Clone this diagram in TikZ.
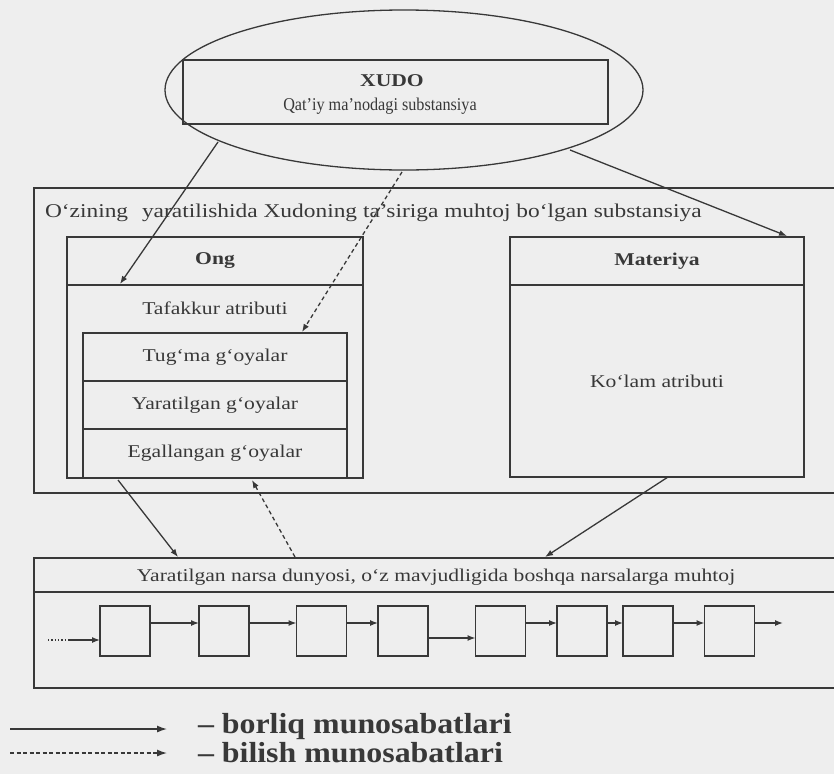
\documentclass[tikz,border=0pt]{standalone}
\usepackage{fontspec}
\setmainfont{Liberation Serif}
\newfontfamily\wf[FakeStretch=1.2]{Liberation Serif}
\newfontfamily\cf[FakeStretch=0.9]{Liberation Serif}
\newfontfamily\lf[FakeStretch=1.1]{Liberation Serif}
\usetikzlibrary{shapes.geometric,arrows.meta}
\definecolor{ink}{HTML}{383838}
\definecolor{paper}{HTML}{EEEEEE}
\begin{document}
\begin{tikzpicture}[x=1pt,y=-1pt,
  every node/.style={inner sep=0pt,outer sep=0pt},
  ln/.style={draw=ink,line width=1.3pt},
  box/.style={ln,rectangle},
  sbox/.style={ln,rectangle,minimum width=50pt,minimum height=50pt},
  lbl/.style={font=\wf\fontsize{18}{20}\selectfont,text=ink},
  blbl/.style={font=\wf\fontsize{18}{20}\selectfont\bfseries,text=ink},
  leg/.style={font=\lf\fontsize{29}{30}\selectfont\bfseries,text=ink,anchor=west},
  arr/.style={ln,-{Latex[length=8pt,width=6pt]}},
  darr/.style={arr,dash pattern=on 4pt off 3pt},
]
\fill[paper] (0,0) rectangle (834,774);
\useasboundingbox (0,0) rectangle (834,774);

% God
\node[ln,ellipse,minimum width=478pt,minimum height=160pt] (god) at (404,90) {};
\node[box,minimum width=425pt,minimum height=64pt] (xudo) at (395.5,92) {};
\node[blbl] (xt1) at (392,81) {XUDO};
\node[font=\cf\fontsize{18}{20}\selectfont,text=ink] (xt2) at (380,106) {Qat’iy ma’nodagi substansiya};

% middle box
\node[box,anchor=north west,minimum width=810pt,minimum height=305pt] (mid) at (34,188) {};
\node[font=\wf\fontsize{19.5}{21}\selectfont,text=ink,anchor=west] (midt) at (45,213) {O‘zining\hspace{8pt} yaratilishida Xudoning ta’siriga muhtoj bo‘lgan substansiya};

% Ong
\node[box,anchor=north west,minimum width=296pt,minimum height=241pt] (ong) at (67,237) {};
\draw[ln] (ong.west |- 0,285) -- (ong.east |- 0,285);
\node[blbl] (ongt) at (215,261) {Ong};
\node[lbl] (taf) at (215,308) {Tafakkur atributi};
\node[box,anchor=north west,minimum width=264pt,minimum height=145pt] (goy) at (83,333) {};
\draw[ln] (goy.west |- 0,381) -- (goy.east |- 0,381);
\draw[ln] (goy.west |- 0,429) -- (goy.east |- 0,429);
\node[lbl] (g1) at (215,357) {Tug‘ma g‘oyalar};
\node[lbl] (g2) at (215,405) {Yaratilgan g‘oyalar};
\node[lbl] (g3) at (215,453) {Egallangan g‘oyalar};

% Materiya
\node[box,anchor=north west,minimum width=294pt,minimum height=240pt] (mat) at (510,237) {};
\draw[ln] (mat.west |- 0,285) -- (mat.east |- 0,285);
\node[blbl] (matt) at (657,261) {Materiya};
\node[lbl] (kol) at (657,381) {Ko‘lam atributi};

% world
\node[box,anchor=north west,minimum width=810pt,minimum height=130pt] (world) at (34,558) {};
\draw[ln] (world.west |- 0,592) -- (world.east |- 0,592);
\node[lbl] (wt) at (436,577) {Yaratilgan narsa dunyosi, o‘z mavjudligida boshqa narsalarga muhtoj};

\node[sbox] (b1) at (125,631) {};
\node[sbox] (b2) at (224,631) {};
\node[sbox] (b3) at (321.5,631) {};
\node[sbox] (b4) at (403,631) {};
\node[sbox] (b5) at (500.5,631) {};
\node[sbox] (b6) at (582,631) {};
\node[sbox] (b7) at (648,631) {};
\node[sbox] (b8) at (729.5,631) {};

\coordinate (ya) at (0,623);
\coordinate (yb) at (0,638);
\coordinate (in0) at (48,640);
\coordinate (in1) at (68,640);
\coordinate (out) at (783,623);
\draw[ln,dotted] (in0) -- (in1);
\draw[arr] (in1) -- (b1.west |- in1);
\draw[arr] (b1.east |- ya) -- (b2.west |- ya);
\draw[arr] (b2.east |- ya) -- (b3.west |- ya);
\draw[arr] (b3.east |- ya) -- (b4.west |- ya);
\draw[arr] (b4.east |- yb) -- (b5.west |- yb);
\draw[arr] (b5.east |- ya) -- (b6.west |- ya);
\draw[arr] (b6.east |- ya) -- (b7.west |- ya);
\draw[arr] (b7.east |- ya) -- (b8.west |- ya);
\draw[arr] (b8.east |- ya) -- (out);

% connectors
\coordinate (c1s) at (218,142); \coordinate (c1e) at (120,284);
\coordinate (c2s) at (402,172); \coordinate (c2e) at (302,332);
\coordinate (c3s) at (570,150); \coordinate (c3e) at (787,236);
\coordinate (c4s) at (118,480); \coordinate (c4e) at (178,557);
\coordinate (c5s) at (295,557); \coordinate (c5e) at (252,480);
\coordinate (c6s) at (668,477); \coordinate (c6e) at (545,557);
\draw[arr] (c1s) -- (c1e);
\draw[darr] (c2s) -- (c2e);
\draw[arr] (c3s) -- (c3e);
\draw[arr] (c4s) -- (c4e);
\draw[darr] (c5s) -- (c5e);
\draw[arr] (c6s) -- (c6e);

% legend
\coordinate (l1a) at (10,729); \coordinate (l1b) at (167,729);
\coordinate (l2a) at (10,753); \coordinate (l2b) at (167,753);
\draw[arr,-{Latex[length=10pt,width=7pt]}] (l1a) -- (l1b);
\draw[darr,dash pattern=on 4pt off 2.5pt,-{Latex[length=10pt,width=7pt]}] (l2a) -- (l2b);
\node[leg] (lt1) at (198,727) {– borliq munosabatlari};
\node[leg] (lt2) at (198,753) {– bilish munosabatlari};
\end{tikzpicture}
\end{document}
